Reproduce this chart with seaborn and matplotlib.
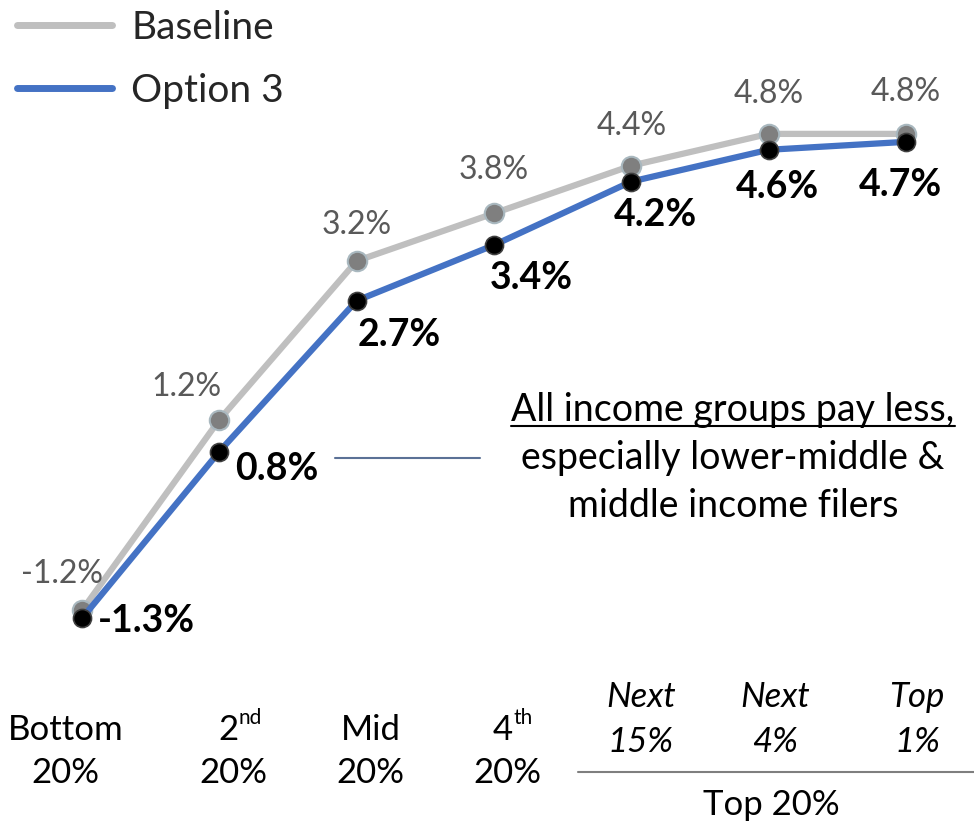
import matplotlib
matplotlib.use("Agg")
import matplotlib.pyplot as plt
from matplotlib.lines import Line2D
import pandas as pd
import seaborn as sns

# data
groups = ["Bottom\n20%", "2nd\n20%", "Mid\n20%", "4th\n20%", "Next\n15%", "Next\n4%", "Top\n1%"]
baseline = [-1.2, 1.2, 3.2, 3.8, 4.4, 4.8, 4.8]
option3 = [-1.3, 0.8, 2.7, 3.4, 4.2, 4.6, 4.7]
series_names = ["Baseline", "Option 3"]
note_lines = ["All income groups pay less,", "especially lower-middle &", "middle income filers"]
group_label = "Top 20%"

sns.set_theme(style="white")
plt.rcParams["font.family"] = ["Lato", "DejaVu Sans"]

W, H = 974, 824
fig = plt.figure(figsize=(W / 100, H / 100), dpi=100)
ax = fig.add_axes([0, 0, 1, 1])
ax.set_axis_off()

df = pd.DataFrame({"x": range(len(groups)), "baseline": baseline, "option3": option3})

sns.lineplot(data=df, x="x", y="baseline", ax=ax, color="#BFBFBF", linewidth=4.5,
             marker="o", markersize=14, markerfacecolor="#7F7F7F",
             markeredgecolor="#A9B8BF", markeredgewidth=1.5, zorder=2)
sns.lineplot(data=df, x="x", y="option3", ax=ax, color="#4472C4", linewidth=4.5,
             marker="o", markersize=13, markerfacecolor="black",
             markeredgecolor="#404040", markeredgewidth=1.2, zorder=3)

ax.set_xlim(-0.597, 6.495)
ax.set_ylim(-3.89, 6.486)

# value labels
base_off = [(-20, 36), (-33, 33), (0, 36), (0, 43), (0, 40), (0, 40), (0, 42)]
opt_off = [(64, -3), (57, -17), (43, -34), (37, -33), (24, -33), (9, -37), (-6, -43)]
for i, v in enumerate(baseline):
    ax.annotate(f"{v:.1f}%", (i, v), xytext=base_off[i], textcoords="offset pixels",
                ha="center", va="center", fontsize=23, color="#595959")
for i, v in enumerate(option3):
    ax.annotate(f"{v:.1f}%", (i, v), xytext=opt_off[i], textcoords="offset pixels",
                ha="center", va="center", fontsize=27, color="black", fontweight="bold")

# category labels along the bottom
label_dx = [-0.12, 0.1, 0.1, 0.1, 0.07, 0.05, 0.08]
row1 = 1 - 730 / H
row2 = 1 - 773 / H
irow1 = 1 - 697 / H
irow2 = 1 - 742 / H
fs = 25
trans = ax.get_xaxis_transform()
for i, lab in enumerate(groups):
    top, bottom = lab.split("\n")
    x = i + label_dx[i]
    if i < 4:
        if top[-2:] in ("nd", "th"):
            ax.text(x + 0.04, row1, top[:-2], transform=trans, ha="right", va="center",
                    fontsize=fs, color="black")
            ax.text(x + 0.04, row1 + 0.014, top[-2:], transform=trans, ha="left", va="center",
                    fontsize=15, color="black")
        else:
            ax.text(x, row1, top, transform=trans, ha="center", va="center",
                    fontsize=fs, color="black")
        ax.text(x, row2, bottom, transform=trans, ha="center", va="center",
                fontsize=fs, color="black")
    else:
        ax.text(x, irow1, top, transform=trans, ha="center", va="center",
                fontsize=fs, color="black", style="italic")
        ax.text(x, irow2, bottom, transform=trans, ha="center", va="center",
                fontsize=fs, color="black", style="italic")

# group bracket line for the top 20%
fig.add_artist(Line2D([578 / W, 1.0], [1 - 772 / H, 1 - 772 / H], transform=fig.transFigure,
                      color="#7F7F7F", linewidth=1.5))
fig.text(771 / W, 1 - 805 / H, group_label, ha="center", va="center", fontsize=fs, color="black")

# note text with connector line
note_y = [410, 458, 506]
note_texts = []
for line, y in zip(note_lines, note_y):
    note_texts.append(fig.text(733 / W, 1 - y / H, line, ha="center", va="center",
                               fontsize=27, color="black"))
fig.add_artist(Line2D([335 / W, 480 / W], [1 - 458 / H, 1 - 458 / H], transform=fig.transFigure,
                      color="#5B7196", linewidth=1.5))

fig.canvas.draw()
bb = note_texts[0].get_window_extent().transformed(fig.transFigure.inverted())
fig.add_artist(Line2D([bb.x0, bb.x1], [bb.y0 + 0.002, bb.y0 + 0.002], transform=fig.transFigure,
                      color="black", linewidth=1.5))

# legend without markers
handles = [Line2D([], [], color="#BFBFBF", linewidth=5),
           Line2D([], [], color="#4472C4", linewidth=5)]
ax.legend(handles, series_names, loc="upper left", bbox_to_anchor=(-0.003, 1.012),
          frameon=False, fontsize=28, handlelength=2.45, handletextpad=0.5,
          labelspacing=0.7, borderpad=0.0)

fig.savefig("out.png", dpi=100)
